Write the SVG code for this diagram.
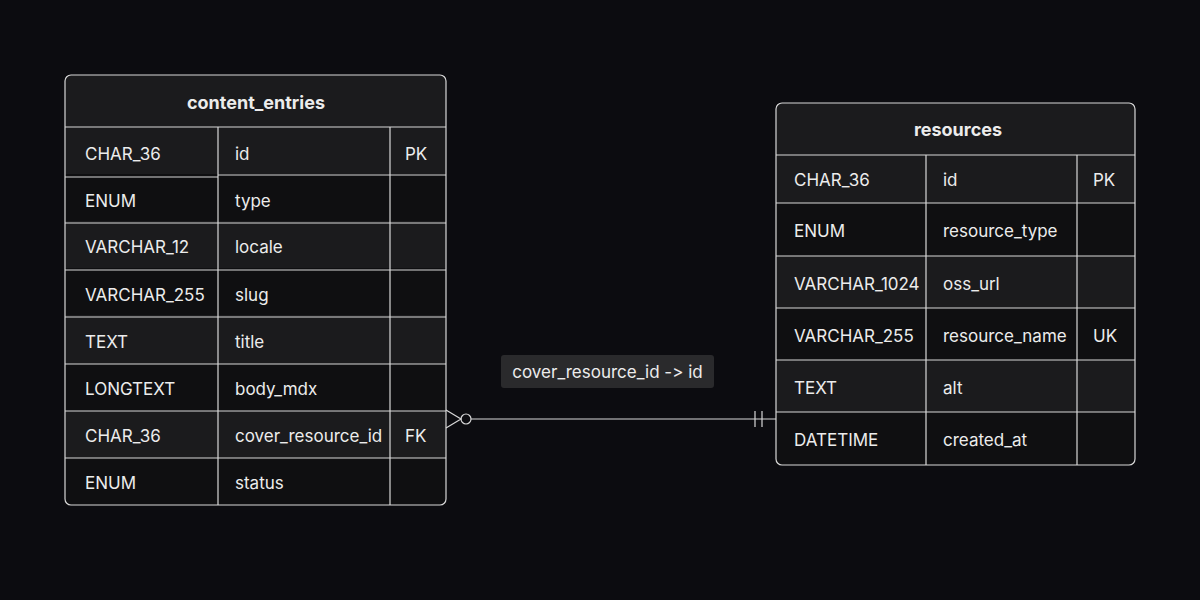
<svg xmlns="http://www.w3.org/2000/svg" width="1200" height="600" viewBox="0 0 1200 600">
<style>
text{font-family:Inter,"Noto Sans",sans-serif;fill:#ececec;font-size:17px;font-variant-ligatures:none;font-feature-settings:"calt" 0,"liga" 0}
.h{font-weight:700;text-anchor:middle;font-size:18px}
.ln{stroke:#d8d8d8;stroke-width:1.2;fill:none}
.a{fill:#1b1b1d}.b{fill:#0f0f11}
</style>
<rect width="1200" height="600" fill="#0c0c10"/>
<g id="content_entries">
<rect x="65" y="75" width="381" height="430" rx="6" class="a"/>
<rect x="65" y="174" width="381" height="47" class="b"/>
<rect x="65" y="268" width="381" height="47" class="b"/>
<rect x="65" y="364" width="381" height="47" class="b"/>
<rect x="65" y="458" width="381" height="47" class="b"/>
<rect x="65" y="75" width="381" height="430" rx="6" class="ln"/>
<path class="ln" d="M65 127H446M65 177H218M218 175H446M65 223H446M65 270H446M65 317H446M65 364H446M65 411H446M65 458H446M218 127V505M390 127V505"/>
<text class="h" x="256" y="109">content_entries</text>
<g>
<text x="85" y="160">CHAR_36</text><text x="235" y="160">id</text><text x="405" y="160">PK</text>
<text x="85" y="207">ENUM</text><text x="235" y="207">type</text>
<text x="85" y="253">VARCHAR_12</text><text x="235" y="253">locale</text>
<text x="85" y="301">VARCHAR_255</text><text x="235" y="301">slug</text>
<text x="85" y="348">TEXT</text><text x="235" y="348">title</text>
<text x="85" y="395">LONGTEXT</text><text x="235" y="395">body_mdx</text>
<text x="85" y="442">CHAR_36</text><text x="235" y="442">cover_resource_id</text><text x="405" y="442">FK</text>
<text x="85" y="489">ENUM</text><text x="235" y="489">status</text>
</g>
</g>
<g id="resources">
<rect x="776" y="103" width="359" height="362" rx="6" class="a"/>
<rect x="776" y="203" width="359" height="53" class="b"/>
<rect x="776" y="308" width="359" height="52" class="b"/>
<rect x="776" y="412" width="359" height="53" class="b"/>
<rect x="776" y="103" width="359" height="362" rx="6" class="ln"/>
<path class="ln" d="M776 155H1135M776 203H1135M776 256H1135M776 308H1135M776 360H1135M776 412H1135M926 155V465M1077 155V465"/>
<text class="h" x="958" y="136">resources</text>
<text x="794" y="186">CHAR_36</text><text x="943" y="186">id</text><text x="1093" y="186">PK</text>
<text x="794" y="237">ENUM</text><text x="943" y="237">resource_type</text>
<text x="794" y="290">VARCHAR_1024</text><text x="943" y="290">oss_url</text>
<text x="794" y="342">VARCHAR_255</text><text x="943" y="342">resource_name</text><text x="1093" y="342">UK</text>
<text x="794" y="394">TEXT</text><text x="943" y="394">alt</text>
<text x="794" y="446">DATETIME</text><text x="943" y="446">created_at</text>
</g>
<g id="connectors">
<path class="ln" d="M471 419H776M446 410L461 419L446 428M755 411V427M762 411V427"/>
<circle cx="466" cy="419" r="5" class="ln"/>
<rect x="501" y="355" width="213" height="33" rx="3" fill="#2a2a2c"/>
<text x="607.5" y="378" text-anchor="middle">cover_resource_id -&gt; id</text>
</g>
</svg>
